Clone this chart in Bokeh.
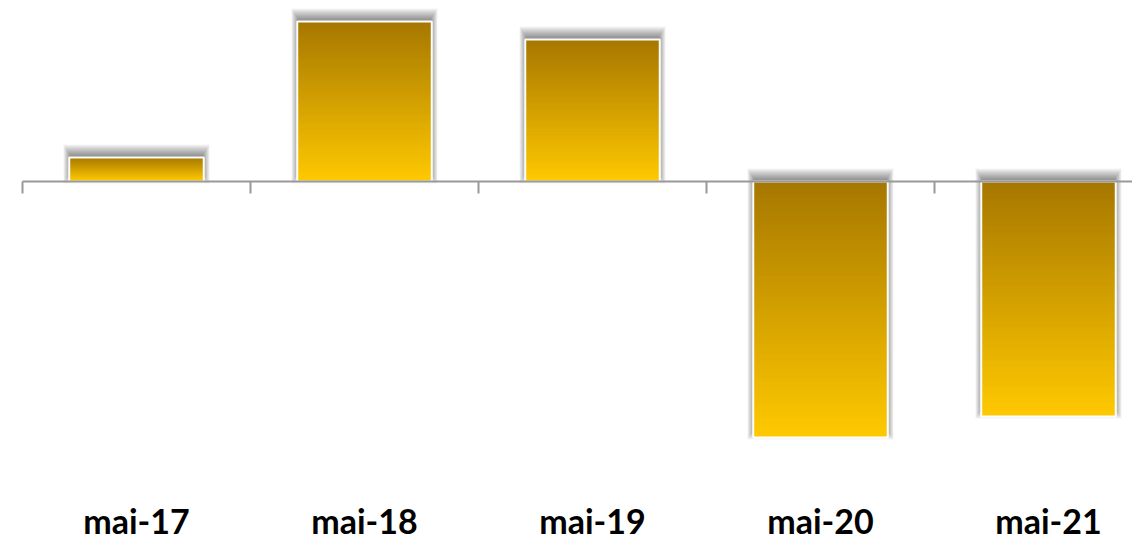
import numpy as np
from bokeh.plotting import figure
from bokeh.models import Range1d
from bokeh.core.properties import value
from bokeh.embed import file_html
from bokeh.resources import INLINE

# ---- data ----
categories = ["mai-17", "mai-18", "mai-19", "mai-20", "mai-21"]
values = [2.4, 16.0, 14.2, -25.6, -23.5]

# ---- layout / style ----
W, H = 1132, 541
PX_X = 228.0     # pixels per category
PX_Y = 10.0      # pixels per value unit
ZERO_PX = 181    # pixel row of the zero line inside the figure
LEFT_PX = 22     # pixel column of the first category boundary
BAR_W = 0.59
DARK = np.array([166, 119, 0], dtype=float)
BRIGHT = np.array([255, 201, 0], dtype=float)
AXIS_COLOR = "#999999"

x_start = -0.5 - LEFT_PX / PX_X
x_end = x_start + W / PX_X
y_end = ZERO_PX / PX_Y
y_start = y_end - H / PX_Y

p = figure(width=W, height=H,
           x_range=Range1d(x_start, x_end), y_range=Range1d(y_start, y_end),
           output_backend="svg", toolbar_location=None,
           x_axis_location=None, y_axis_location=None, min_border=0)
p.grid.visible = False
p.outline_line_color = None
p.background_fill_color = "white"
p.border_fill_color = "white"

xs = np.arange(len(categories), dtype=float)
vals = np.array(values, dtype=float)
tops = np.maximum(vals, 0)
bots = np.minimum(vals, 0)
hw = BAR_W / 2

# soft shadow (offset upwards, blurred by stacked translucent layers)
for e in range(-3, 10):
    ex = max(e, 0) * 0.65
    p.quad(left=xs - hw - ex / PX_X, right=xs + hw + ex / PX_X,
           top=tops + (4 + e) / PX_Y, bottom=bots + (7 - e) / PX_Y,
           fill_color="black", fill_alpha=0.045, line_color=None)

# gradient fill: dark at the top edge, bright at the bottom edge of each bar
N = 60
L, R, T, B, C = [], [], [], [], []
for x, t, b in zip(xs, tops, bots):
    h = t - b
    for i in range(N):
        f = (i + 0.5) / N
        col = DARK + (BRIGHT - DARK) * f
        L.append(x - hw)
        R.append(x + hw)
        T.append(t - h * i / N)
        B.append(t - h * (i + 1) / N)
        C.append("#%02x%02x%02x" % tuple(int(round(c)) for c in col))
p.quad(left=L, right=R, top=T, bottom=B, fill_color=C, line_color=C, line_width=1)

# white border
p.quad(left=xs - hw, right=xs + hw, top=tops, bottom=bots,
       fill_color=None, line_color="white", line_width=2)

# category axis line at zero with boundary ticks
bounds = np.arange(len(categories) + 1) - 0.5
p.segment(x0=[bounds[0]], y0=[0], x1=[bounds[-1]], y1=[0],
          line_color=AXIS_COLOR, line_width=2)
p.ray(x=bounds, y=np.zeros(len(bounds)), length=12, length_units="screen",
      angle=-np.pi / 2, line_color=AXIS_COLOR, line_width=2)

# category labels
label_y = y_end - 540 / PX_Y
p.text(x=xs, y=[label_y] * len(categories), text=categories,
       text_align="center", text_baseline="bottom",
       text_font=value("Lato"), text_font_style="bold",
       text_font_size="34px", text_color="black")

open("out.html", "w").write(file_html(p, INLINE))
